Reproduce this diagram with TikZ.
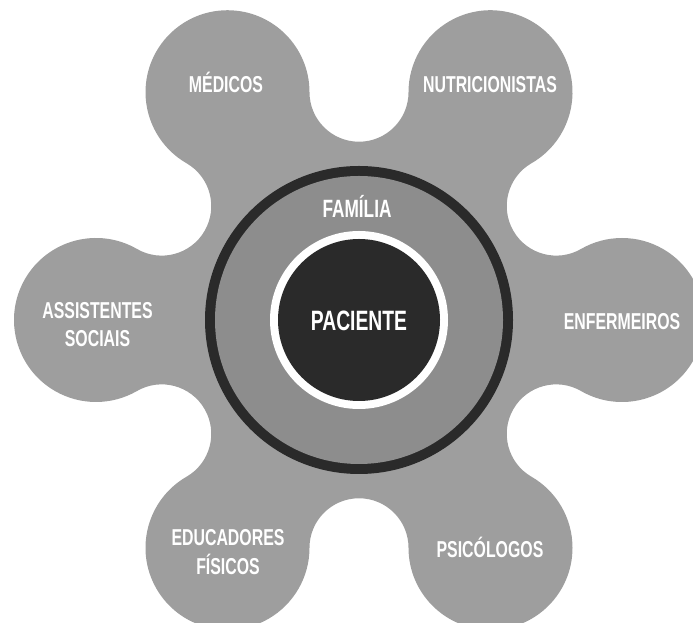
\documentclass[tikz,border=0pt]{standalone}
\usepackage{fontspec}
\newfontfamily\labfont{Liberation Sans}[FakeStretch=0.69]
\usetikzlibrary{calc}
\definecolor{petalgray}{RGB}{158,158,158}
\definecolor{ringgray}{RGB}{141,141,141}
\definecolor{darkgray}{RGB}{42,42,42}
\tikzset{
  petal/.style={fill=petalgray},
  lab/.style={text=white, font=\labfont\bfseries\fontsize{23}{28.5}\selectfont, inner sep=0pt, align=center},
  bigLab/.style={text=white, font=\labfont\bfseries\fontsize{28}{30}\selectfont, inner sep=0pt},
  famLab/.style={text=white, font=\labfont\bfseries\fontsize{25}{28}\selectfont, inner sep=0pt}
}
\begin{document}
\begin{tikzpicture}[x=1pt,y=1pt]
\useasboundingbox (0,0) rectangle (693,623);
\clip (0,0) rectangle (693,623);
\coordinate (C) at (359,303);
% flower outline
\fill[petal] ($(C)+(0:263)+(-120:82)$)
  \foreach \k in {0,...,5}{
    arc[start angle={60*\k-120}, end angle={60*\k+120}, radius=82]
    arc[start angle={60*\k+300}, end angle={60*\k+120}, radius=49.5]
  } -- cycle;
% rings
\fill[darkgray] (C) circle[radius=154];
\fill[ringgray] (C) circle[radius=144];
\fill[white] (C) circle[radius=89];
\fill[darkgray] (C) circle[radius=81];
% labels
\node[bigLab, anchor=base] (pac) at (359,292.7) {PACIENTE};
\node[famLab, anchor=base] (fam) at (357,405.3) {FAMÍLIA};
\node[lab, anchor=base] (med) at (226,530.3) {MÉDICOS};
\node[lab, anchor=base] (nut) at (490,530.8) {NUTRICIONISTAS};
\node[lab, anchor=base] (enf) at (622,293.8) {ENFERMEIROS};
\node[lab, anchor=base] (psi) at (490,65.8) {PSICÓLOGOS};
\node[lab] (ass) at (97.5,298.4) {ASSISTENTES\\SOCIAIS};
\node[lab] (edu) at (228,71.1) {EDUCADORES\\FÍSICOS};
\end{tikzpicture}
\end{document}
